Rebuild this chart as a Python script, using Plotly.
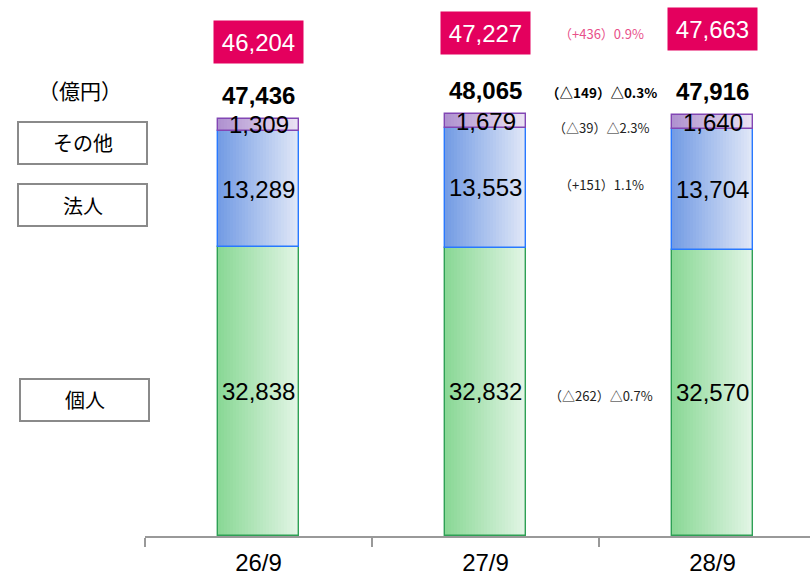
import plotly.graph_objects as go

# ---- data ----
categories = ["26/9", "27/9", "28/9"]
kojin = [32838, 32832, 32570]      # 個人
hojin = [13289, 13553, 13704]      # 法人
sonota = [1309, 1679, 1640]        # その他
totals = [47436, 48065, 47916]
highlight = [46204, 47227, 47663]
series_names = ["個人", "法人", "その他"]
unit_label = "（億円）"
chg_highlight = "（+436）0.9%"
chg_total = "（△149）△0.3%"
chg_sonota = "（△39）△2.3%"
chg_hojin = "（+151）1.1%"
chg_kojin = "（△262）△0.7%"

# ---- layout constants ----
W, H = 810, 576
L, T, B = 145, 0, 40
PW, PH = W - L, H - T - B
YMAX = 61000
XR = [-0.5, -0.5 + PW / 227.0]
BW = 0.36
N = 27

def fmt(v):
    return f"{v:,}"

def px2paper(px, py):
    return (px - L) / PW, (H - B - py) / PH

segments = [
    (kojin, [0, 0, 0], (138, 216, 150), (226, 245, 229), "rgb(46,160,85)"),
    (hojin, kojin, (116, 156, 228), (224, 231, 247), "rgb(40,120,255)"),
    (sonota, [a + b for a, b in zip(kojin, hojin)], (176, 146, 208), (234, 226, 243), "rgb(130,70,180)"),
]

fig = go.Figure()
xs = [0, 1, 2]
for vals, base, c0, c1, lc in segments:
    for k in range(N):
        t = k / (N - 1)
        col = "rgb(%d,%d,%d)" % tuple(round(c0[i] + (c1[i] - c0[i]) * t) for i in range(3))
        fig.add_trace(go.Bar(
            x=xs, y=vals, base=base, width=BW / N * 1.4,
            offset=-BW / 2 + k * BW / N if k < N - 1 else BW / 2 - BW / N * 1.4,
            marker=dict(color=col, line=dict(width=0)),
            hoverinfo="skip", showlegend=False))
    fig.add_trace(go.Bar(
        x=xs, y=vals, base=base, width=BW,
        marker=dict(color="rgba(0,0,0,0)", line=dict(color=lc, width=1.4)),
        showlegend=False))

ann = []
seg_font = dict(family="Liberation Sans, Arial", size=24, color="black")
for i in range(3):
    b0 = 0
    for vals in (kojin, hojin, sonota):
        ann.append(dict(x=i, y=b0 + vals[i] / 2, text=fmt(vals[i]), showarrow=False,
                        font=seg_font))
        b0 += vals[i]
    ann.append(dict(x=i, y=totals[i], text="<b>" + fmt(totals[i]) + "</b>", showarrow=False,
                    yanchor="bottom", yshift=8,
                    font=dict(family="Liberation Sans, Arial", size=24, color="black")))
    ann.append(dict(x=i, y=highlight[i] + 10000, text=fmt(highlight[i]), showarrow=False,
                    font=dict(family="Liberation Sans, Arial", size=24, color="white"),
                    bgcolor="#E4005E", width=85, height=38, borderpad=2))

xc = 1.51
small = dict(family="Noto Sans CJK JP", size=13, color="#222222")
ann.append(dict(x=xc, y=highlight[2] + 10000, text=chg_highlight, showarrow=False, yshift=-4,
                font=dict(family="Noto Sans CJK JP", size=13, color="#E8508A")))
ann.append(dict(x=xc, y=totals[2], text="<b>" + chg_total + "</b>", showarrow=False,
                yanchor="bottom", yshift=11,
                font=dict(family="Noto Sans CJK JP", size=13.5, color="black")))
ann.append(dict(x=xc, y=kojin[2] + hojin[2] + sonota[2] / 2, text=chg_sonota, showarrow=False,
                yshift=-5, font=small))
ann.append(dict(x=xc, y=kojin[2] + hojin[2] / 2, text=chg_hojin, showarrow=False,
                yshift=5, font=small))
ann.append(dict(x=xc, y=kojin[2] / 2, text=chg_kojin, showarrow=False,
                yshift=-3, font=small))

# unit label
ux, uy = px2paper(80, 90)
ann.append(dict(xref="paper", yref="paper", x=ux, y=uy, xanchor="center", yanchor="middle",
                text=unit_label, showarrow=False,
                font=dict(family="Noto Sans CJK JP", size=21, color="black")))

shapes = []
boxes = [("その他", 18, 122, 147, 164), ("法人", 18, 184, 147, 226), ("個人", 20, 379, 149, 421)]
for name, x0, y0, x1, y1 in boxes:
    px0, py0 = px2paper(x0, y1)
    px1, py1 = px2paper(x1, y0)
    shapes.append(dict(type="rect", xref="paper", yref="paper", x0=px0, y0=py0, x1=px1, y1=py1,
                       line=dict(color="#8a8a8a", width=2), fillcolor="white", layer="below"))
    cx, cy = px2paper((x0 + x1) / 2, (y0 + y1) / 2)
    ann.append(dict(xref="paper", yref="paper", x=cx, y=cy, xanchor="center", yanchor="middle",
                    text=name, showarrow=False,
                    font=dict(family="Noto Sans CJK JP", size=20, color="black")))

fig.update_layout(
    width=W, height=H, margin=dict(l=L, r=0, t=T, b=B, autoexpand=False),
    paper_bgcolor="white", plot_bgcolor="rgba(0,0,0,0)",
    barmode="overlay", bargap=0,
    annotations=ann, shapes=shapes, showlegend=False,
    xaxis=dict(range=XR, tickvals=xs, ticktext=categories, ticks="", showgrid=False,
               zeroline=False, showline=True, linecolor="#999999", linewidth=2,
               automargin=False, ticklabelstandoff=4,
               tickfont=dict(family="Liberation Sans, Arial", size=24, color="black"),
               minor=dict(tick0=-0.5, dtick=1, ticks="outside", ticklen=9, tickwidth=2,
                          tickcolor="#999999", showgrid=False)),
    yaxis=dict(range=[0, YMAX], visible=False, showgrid=False, zeroline=False, automargin=False),
)

fig.write_html("out.html", config={"displayModeBar": False},
               post_script="document.body.style.margin='0';")
